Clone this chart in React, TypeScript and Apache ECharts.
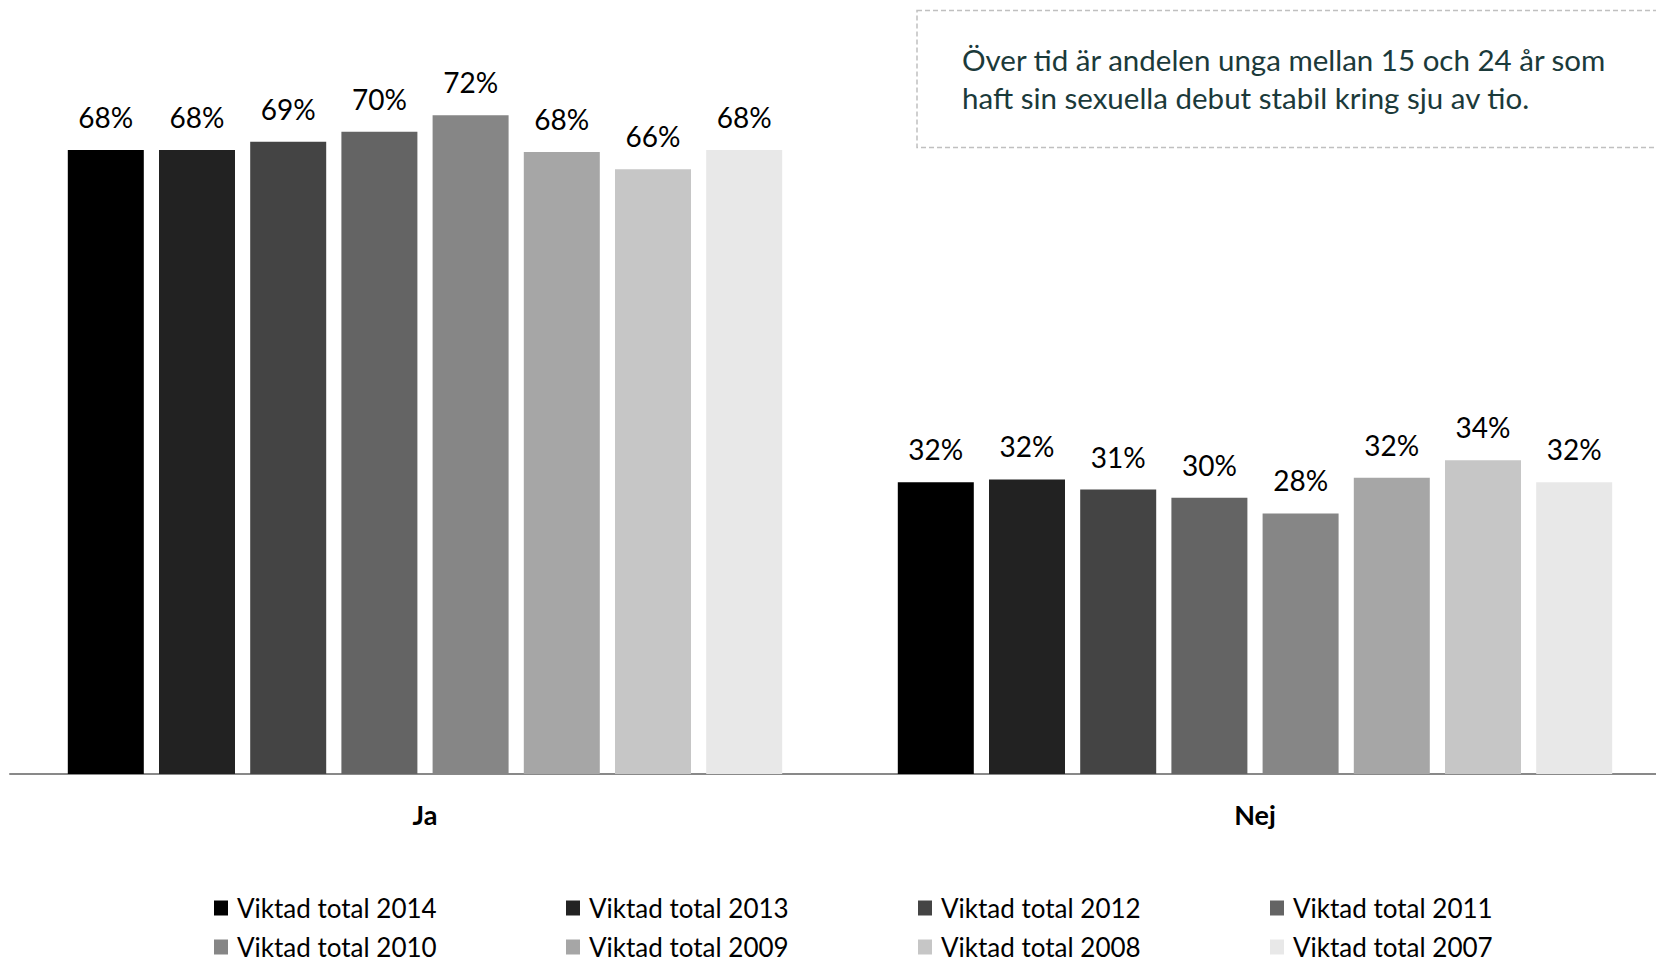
import React, { useEffect, useRef } from "react";
import * as echarts from "echarts";

const categories = ["Ja", "Nej"];
const seriesNames = [
  "Viktad total 2014",
  "Viktad total 2013",
  "Viktad total 2012",
  "Viktad total 2011",
  "Viktad total 2010",
  "Viktad total 2009",
  "Viktad total 2008",
  "Viktad total 2007",
];
const jaValues = [68.0, 68.0, 68.9, 70.0, 71.8, 67.8, 65.9, 68.0];
const nejValues = [31.8, 32.1, 31.0, 30.1, 28.4, 32.3, 34.2, 31.8];
const colors = ["#000000", "#222222", "#444444", "#646464", "#868686", "#a6a6a6", "#c6c6c6", "#e8e8e8"];
const noteLines = [
  "Över tid är andelen unga mellan 15 och 24 år som",
  "haft sin sexuella debut stabil kring sju av tio.",
];

const FONT = "Lato, 'Noto Sans', sans-serif";

export default function App() {
  const ref = useRef<HTMLDivElement>(null);
  useEffect(() => {
    document.body.style.margin = "0";
    const chart = echarts.init(ref.current!, null, { renderer: "svg" });
    const legendX = [214, 566, 918, 1270];
    const legendY = [895, 934];
    const option: any = {
      animation: false,
      backgroundColor: "#ffffff",
      grid: {
        left: 10,
        width: 1660,
        top: 40,
        bottom: 190,
        containLabel: false,
        outerBoundsMode: "none",
      },
      xAxis: {
        type: "category",
        data: categories,
        axisLine: { show: true, lineStyle: { color: "#898989", width: 2 } },
        axisTick: { show: false },
        axisLabel: {
          margin: 27,
          fontFamily: FONT,
          fontSize: 27,
          fontWeight: "bold",
          color: "#000000",
        },
      },
      yAxis: { type: "value", min: 0, max: 80, show: false, splitLine: { show: false } },
      legend: seriesNames.map((n, i) => ({
        data: [n],
        left: legendX[i % 4],
        top: legendY[Math.floor(i / 4)],
        padding: 0,
        itemWidth: 14,
        itemHeight: 15,
        icon: "rect",
        selectedMode: false,
        textStyle: {
          fontFamily: FONT,
          fontSize: 26,
          lineHeight: 24,
          color: "#000000",
          padding: [0, 0, 0, 4],
        },
      })),
      series: seriesNames.map((n, i) => ({
        name: n,
        type: "bar",
        data: [jaValues[i], nejValues[i]],
        barWidth: 76,
        barGap: "20%",
        itemStyle: { color: colors[i] },
        label: {
          show: true,
          position: "top",
          distance: 19,
          fontFamily: FONT,
          fontSize: 28,
          color: "#000000",
          formatter: (p: any) => Math.round(p.value) + "%",
        },
      })),
      graphic: [
        {
          type: "rect",
          shape: { x: 917, y: 10.5, width: 748, height: 137 },
          style: { fill: "none", stroke: "#c0c0c0", lineWidth: 1.5, lineDash: [5, 3] },
        },
        ...noteLines.map((t, i) => ({
          type: "text",
          x: 962,
          y: 59 + i * 38,
          style: {
            text: t,
            fontFamily: FONT,
            fontSize: 29.5,
            fill: "#1b3a3a",
            textVerticalAlign: "middle",
            verticalAlign: "middle",
          },
        })),
      ],
    };
    chart.setOption(option);
    return () => chart.dispose();
  }, []);
  return (
    <div
      ref={ref}
      style={{ position: "fixed", left: 0, top: 0, width: 1656, height: 964 }}
    />
  );
}
